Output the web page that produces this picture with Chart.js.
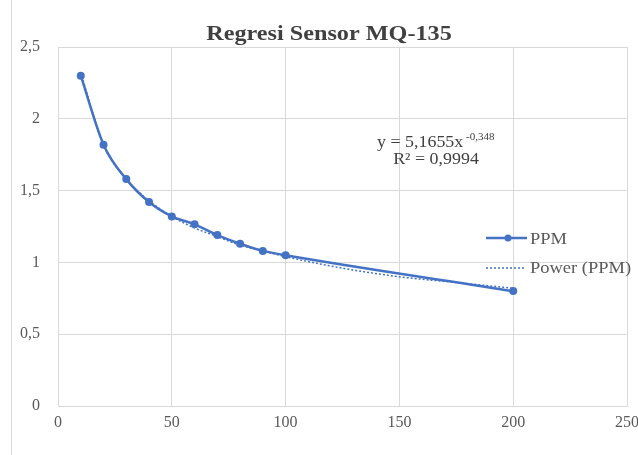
<!DOCTYPE html>
<html>
<head>
<meta charset="utf-8">
<script src="https://cdn.jsdelivr.net/npm/chart.js@4"></script>
<style>
  html, body { margin: 0; padding: 0; background: #fff; }
  #wrap { width: 638px; height: 455px; position: relative; }
</style>
</head>
<body>
<div id="wrap"><canvas id="chart" width="638" height="455"></canvas></div>
<script>
const ppmX = [10, 20, 30, 40, 50, 60, 70, 80, 90, 100, 200];
const ppmY = [2.30, 1.82, 1.58, 1.42, 1.32, 1.265, 1.19, 1.13, 1.08, 1.05, 0.80];

const trendX = [10, 20, 30, 40, 50, 60, 70, 80, 90, 100, 125, 150, 175, 200];
const trendY = [2.32, 1.82, 1.58, 1.43, 1.32, 1.24, 1.18, 1.12, 1.08, 1.04, 0.96, 0.90, 0.86, 0.82];

const xTicks = [0, 50, 100, 150, 200, 250];
const yTicks = [0, 0.5, 1, 1.5, 2, 2.5];

const titleText = 'Regresi Sensor MQ-135';
const legendLabels = ['PPM', 'Power (PPM)'];

const blue = '#4472C4';
const textGray = '#595959';
const serif = "'Liberation Serif', 'Times New Roman', serif";

const toPoints = (xs, ys) => xs.map((x, i) => ({ x: x, y: ys[i] }));
const comma = v => String(v).replace('.', ',');

// the reference text is a little wider than it is tall
function wideText(ctx, str, x, y, align, sx) {
  ctx.save();
  ctx.translate(x, y);
  ctx.scale(sx, 1);
  ctx.textAlign = align;
  ctx.fillText(str, 0, 0);
  ctx.restore();
}

// title, equation, legend and the left border line
const extras = {
  id: 'extras',
  afterDraw(c) {
    const ctx = c.ctx;
    ctx.save();

    ctx.strokeStyle = '#d9d9d9';
    ctx.lineWidth = 1;
    ctx.beginPath();
    ctx.moveTo(11.5, 0);
    ctx.lineTo(11.5, 455);
    ctx.stroke();

    ctx.textBaseline = 'alphabetic';
    ctx.fillStyle = '#404040';
    ctx.font = 'bold 22px ' + serif;
    wideText(ctx, titleText, 329, 40, 'center', 1.1);

    // trendline equation
    ctx.font = '16px ' + serif;
    wideText(ctx, 'y = 5,1655x', 377, 147, 'left', 1.12);
    ctx.font = '10.5px ' + serif;
    wideText(ctx, '-0,348', 466, 140, 'left', 1.05);
    ctx.font = '16px ' + serif;
    wideText(ctx, 'R\u00b2 = 0,9994', 436, 164, 'center', 1.12);

    // legend
    ctx.strokeStyle = blue;
    ctx.fillStyle = blue;
    ctx.lineWidth = 2.5;
    ctx.beginPath();
    ctx.moveTo(486, 238);
    ctx.lineTo(527, 238);
    ctx.stroke();
    ctx.beginPath();
    ctx.arc(508, 238, 3.5, 0, Math.PI * 2);
    ctx.fill();

    ctx.lineWidth = 1.5;
    ctx.setLineDash([2, 2]);
    ctx.beginPath();
    ctx.moveTo(486, 268);
    ctx.lineTo(525, 268);
    ctx.stroke();
    ctx.setLineDash([]);

    ctx.fillStyle = textGray;
    ctx.font = '16.5px ' + serif;
    wideText(ctx, legendLabels[0], 530, 244, 'left', 1.12);
    wideText(ctx, legendLabels[1], 530, 273, 'left', 1.12);

    ctx.restore();
  }
};

new Chart(document.getElementById('chart'), {
  type: 'scatter',
  data: {
    datasets: [
      {
        label: legendLabels[1],
        data: toPoints(trendX, trendY),
        showLine: true,
        borderColor: blue,
        borderWidth: 1.5,
        borderDash: [2, 2],
        pointRadius: 0,
        tension: 0.4,
        cubicInterpolationMode: 'monotone'
      },
      {
        label: legendLabels[0],
        data: toPoints(ppmX, ppmY),
        showLine: true,
        borderColor: blue,
        backgroundColor: blue,
        borderWidth: 2.5,
        pointRadius: 4,
        pointBorderWidth: 0,
        tension: 0.4,
        cubicInterpolationMode: 'monotone'
      }
    ]
  },
  options: {
    responsive: false,
    animation: false,
    layout: { padding: { top: 47, right: 11, left: 0, bottom: 0 } },
    plugins: {
      legend: { display: false },
      title: { display: false },
      tooltip: { enabled: false }
    },
    scales: {
      x: {
        type: 'linear',
        min: 0,
        max: 250,
        afterBuildTicks: s => { s.ticks = xTicks.map(v => ({ value: v })); },
        afterFit: s => { s.height = 49; s.paddingRight = 0; s.paddingLeft = 0; },
        grid: { color: '#d9d9d9', drawTicks: false },
        border: { color: '#d9d9d9' },
        ticks: {
          padding: 7,
          color: textGray,
          font: { family: serif, size: 16 },
          maxRotation: 0
        }
      },
      y: {
        min: 0,
        max: 2.5,
        afterBuildTicks: s => { s.ticks = yTicks.map(v => ({ value: v })); },
        afterFit: s => { s.width = 58; },
        grid: { color: '#d9d9d9', drawTicks: false },
        border: { color: '#d9d9d9' },
        ticks: {
          padding: 18,
          color: textGray,
          font: { family: serif, size: 16 },
          callback: v => comma(v)
        }
      }
    }
  },
  plugins: [extras]
});
</script>
</body>
</html>
